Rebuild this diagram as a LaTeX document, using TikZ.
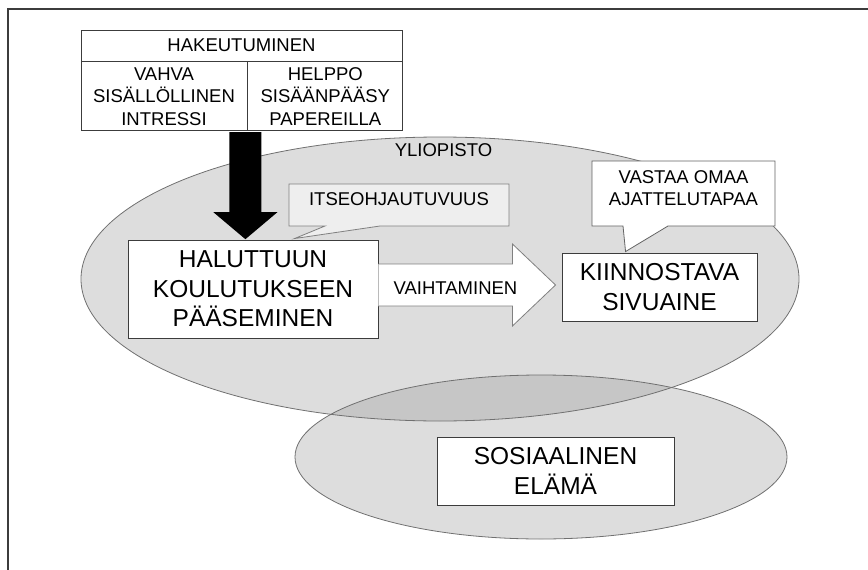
\documentclass[tikz,border=0pt]{standalone}
\usepackage{fontspec}
\setmainfont{Liberation Sans}
\usetikzlibrary{calc}

\definecolor{ringgray}{HTML}{DDDDDD}
\definecolor{overgray}{HTML}{C6C6C6}
\definecolor{edgegray}{HTML}{707070}
\definecolor{boxline}{HTML}{3C3C3C}
\definecolor{bubblegray}{HTML}{EEEEEE}
\definecolor{bubbleline}{HTML}{808080}

\newcommand{\smalltxt}{\fontsize{18.5}{22.5}\selectfont}
\newcommand{\bigtxt}{\fontsize{24.5}{29.5}\selectfont}

\begin{document}
\begin{tikzpicture}[
				x=1pt,
				y=-1pt,
				line join=miter,
				box/.style={draw=boxline, line width=0.9pt, fill=white, inner sep=0pt, align=center, font=\bigtxt},
				cell/.style={draw=boxline, line width=0.8pt, fill=white, inner sep=0pt, align=center, font=\smalltxt},
				plaintext/.style={inner sep=0pt, align=center, font=\smalltxt},
				ring/.style={draw=edgegray, line width=0.8pt},
				bubble/.style={draw=bubbleline, line width=0.8pt}
				]
				\useasboundingbox (0,0) rectangle (868,570);
				
				% Frame
				\draw[boxline, line width=1.3pt] (868,9) -- (8,9) -- (8,570);
				
				% Yliopisto and sosiaalinen elama
				\fill[ringgray] (440,279) ellipse [x radius=359pt, y radius=142pt];
				\fill[ringgray] (541,457) ellipse [x radius=246pt, y radius=82pt];
				\begin{scope}
					\clip (440,279) ellipse [x radius=359pt, y radius=142pt];
					\fill[overgray] (541,457) ellipse [x radius=246pt, y radius=82pt];
				\end{scope}
				\draw[ring] (440,279) ellipse [x radius=359pt, y radius=142pt];
				\draw[ring] (541,457) ellipse [x radius=246pt, y radius=82pt];
				\node[plaintext] (yli) at (443.5,150.5) {YLIOPISTO};
				
				% Hakeutuminen
				\node[cell, minimum width=321pt, minimum height=31pt] (hak) at (241.5,45.5) {HAKEUTUMINEN};
				\node[cell, minimum width=166pt, minimum height=69pt, anchor=north west] (vahva) at (hak.south west) {VAHVA\\SISÄLLÖLLINEN\\INTRESSI};
				\node[cell, minimum width=155pt, minimum height=69pt, anchor=north west] (helppo) at (vahva.north east) {HELPPO\\SISÄÄNPÄÄSY\\PAPEREILLA};
				
				% Boxes
				\node[box, minimum width=250pt, minimum height=98pt] (halu) at (253,289) {HALUTTUUN\\KOULUTUKSEEN\\PÄÄSEMINEN};
				\node[box, minimum width=195pt, minimum height=68pt] (kiin) at (659.5,287) {KIINNOSTAVA\\SIVUAINE};
				\node[box, minimum width=237pt, minimum height=68pt] (sos) at (555.5,471) {SOSIAALINEN\\ELÄMÄ};
				
				% Black arrow
				\coordinate (ashaft) at ($(vahva.south east)+(-2,1)$);
				\coordinate (atip) at ($(ashaft)+(0,107)$);
				\fill[black] ($(ashaft)+(-16,0)$) -- ($(ashaft)+(-16,80)$) -- ($(ashaft)+(-32,80)$) -- (atip)
				-- ($(ashaft)+(32,80)$) -- ($(ashaft)+(16,80)$) -- ($(ashaft)+(16,0)$) -- cycle;
				
				% Vaihtaminen
				\coordinate (vbase) at ($(halu.east)+(0,-4)$);
				\coordinate (vtip) at ($(vbase -| kiin.west)+(-6,0)$);
				\filldraw[fill=white, draw=bubbleline, line width=0.8pt] ($(vbase)+(0,-21)$) -- ($(vbase)+(134,-21)$) -- ($(vbase)+(134,-41)$) -- (vtip)
				-- ($(vbase)+(134,41)$) -- ($(vbase)+(134,21)$) -- ($(vbase)+(0,21)$);
				\node[plaintext] (vaih) at (455.5,288) {VAIHTAMINEN};
				
				% Itseohjautuvuus
				\coordinate (itip) at ($(halu.north west)+(167,-1)$);
				\draw[bubble, fill=bubblegray] (289,184) -- (509,184) -- (509,226) -- (380,226) -- (itip) -- (325,226) -- (289,226) -- cycle;
				\node[plaintext] (itse) at (399,199) {ITSEOHJAUTUVUUS};
				
				% Vastaa omaa ajattelutapaa
				\coordinate (vastip) at ($(kiin.north west)+(64,-1)$);
				\draw[bubble, draw=boxline!80, fill=white] (592,161) -- (775,161) -- (775,226) -- (668,226) -- (vastip) -- (623,226) -- (592,226) -- cycle;
				\node[plaintext] (vast) at (683.5,188) {VASTAA OMAA\\AJATTELUTAPAA};
			\end{tikzpicture}
\end{document}
